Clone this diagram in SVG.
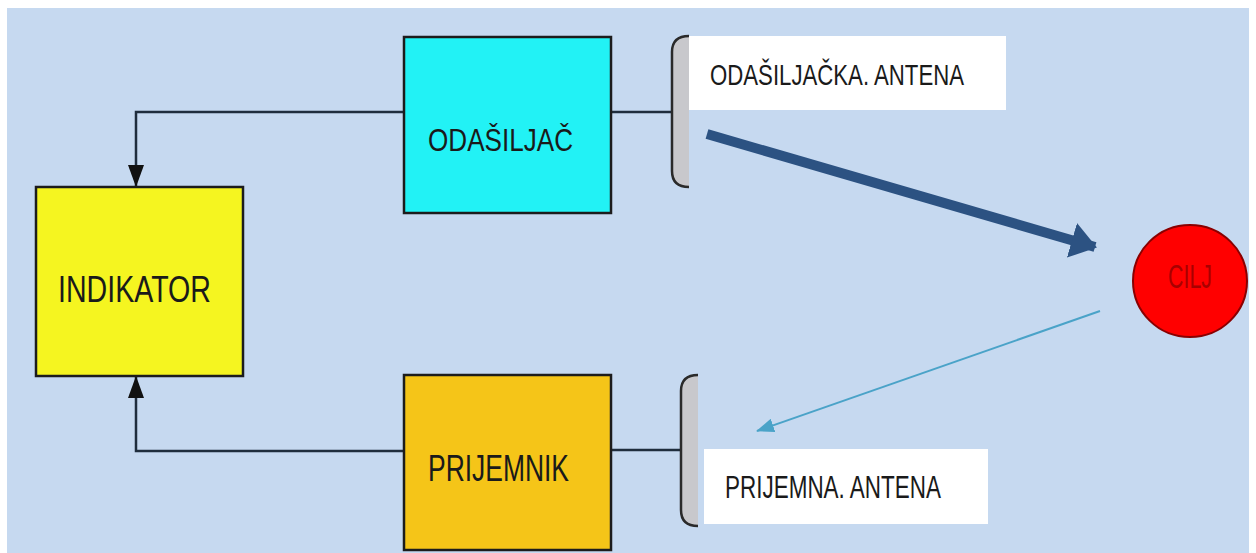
<svg xmlns="http://www.w3.org/2000/svg" width="1256" height="553" viewBox="0 0 1256 553">
  <defs>
    <style>
      .box { stroke: #1c1c1c; stroke-width: 2.5; }
      .lbl { font-family: "Liberation Sans", "DejaVu Sans", sans-serif; fill: #1a1a1a; }
      .wire { fill: none; stroke: #1f2d3d; stroke-width: 2.5; }
      .bracket { fill: #c8c8cc; }
      .bstroke { fill: none; stroke: #2a2a2a; stroke-width: 2.5; }
    </style>
    <marker id="blk" markerWidth="22" markerHeight="16" refX="21" refY="8" orient="auto" markerUnits="userSpaceOnUse" viewBox="0 0 22 16">
      <path d="M0,0 L22,8 L0,16 Z" fill="#111"/>
    </marker>
    <marker id="big" markerWidth="26" markerHeight="36" refX="24" refY="18" orient="auto" markerUnits="userSpaceOnUse" viewBox="0 0 26 36">
      <path d="M0,0 L26,18 L0,36 Z" fill="#2c5282"/>
    </marker>
    <marker id="thin" markerWidth="18" markerHeight="14" refX="17" refY="7" orient="auto" markerUnits="userSpaceOnUse" viewBox="0 0 18 14">
      <path d="M0,0 L18,7 L0,14 Z" fill="#4aa3c8"/>
    </marker>
  </defs>

  <rect x="0" y="0" width="1256" height="553" fill="#ffffff"/>
  <rect x="7" y="8" width="1242" height="545" fill="#c6d9f0"/>

  <g id="connectors">
    <polyline class="wire" points="404,112 136,112 136,186" marker-end="url(#blk)"/>
    <polyline class="wire" points="404,451 136,451 136,377" marker-end="url(#blk)"/>
    <line class="wire" x1="611" y1="112" x2="672" y2="112"/>
    <line class="wire" x1="611" y1="450" x2="681" y2="450"/>
    <line x1="707" y1="134" x2="1095" y2="247" stroke="#2c5282" stroke-width="10" marker-end="url(#big)"/>
    <line x1="1100" y1="311" x2="757" y2="431" stroke="#4aa3c8" stroke-width="2" marker-end="url(#thin)"/>
  </g>

  <g id="indikator">
    <rect class="box" x="36" y="187" width="207" height="189" fill="#f5f520"/>
    <text class="lbl" x="58" y="302" font-size="37" textLength="153" lengthAdjust="spacingAndGlyphs">INDIKATOR</text>
  </g>

  <g id="odasiljac">
    <rect class="box" x="404" y="37" width="207" height="176" fill="#22f2f5"/>
    <text class="lbl" x="428" y="151" font-size="32" textLength="145" lengthAdjust="spacingAndGlyphs" fill="#1b3340">ODAŠILJAČ</text>
  </g>

  <g id="odasiljacka-antena">
    <path class="bracket" d="M689,36 Q672,36 672,52 L672,171 Q672,187 689,187 Z"/>
    <path class="bstroke" d="M689,36 Q672,36 672,52 L672,171 Q672,187 689,187"/>
    <rect x="689" y="36" width="317" height="74" fill="#ffffff"/>
    <text class="lbl" x="710" y="85" font-size="30" textLength="254" lengthAdjust="spacingAndGlyphs">ODAŠILJAČKA. ANTENA</text>
  </g>

  <g id="prijemnik">
    <rect class="box" x="404" y="375" width="207" height="175" fill="#f5c518"/>
    <text class="lbl" x="428" y="481" font-size="37" textLength="141" lengthAdjust="spacingAndGlyphs">PRIJEMNIK</text>
  </g>

  <g id="prijemna-antena">
    <path class="bracket" d="M698,375 Q681,375 681,391 L681,510 Q681,526 698,526 Z"/>
    <path class="bstroke" d="M698,375 Q681,375 681,391 L681,510 Q681,526 698,526"/>
    <rect x="704" y="449" width="284" height="75" fill="#ffffff"/>
    <text class="lbl" x="725" y="498" font-size="31" textLength="216" lengthAdjust="spacingAndGlyphs">PRIJEMNA. ANTENA</text>
  </g>

  <g id="cilj">
    <ellipse cx="1190" cy="281" rx="57" ry="56" fill="#ff0000" stroke="#8a0000" stroke-width="2"/>
    <text x="1168" y="288" font-family="Liberation Sans, sans-serif" font-size="34" fill="#a80000" textLength="44" lengthAdjust="spacingAndGlyphs">CILJ</text>
  </g>
</svg>
